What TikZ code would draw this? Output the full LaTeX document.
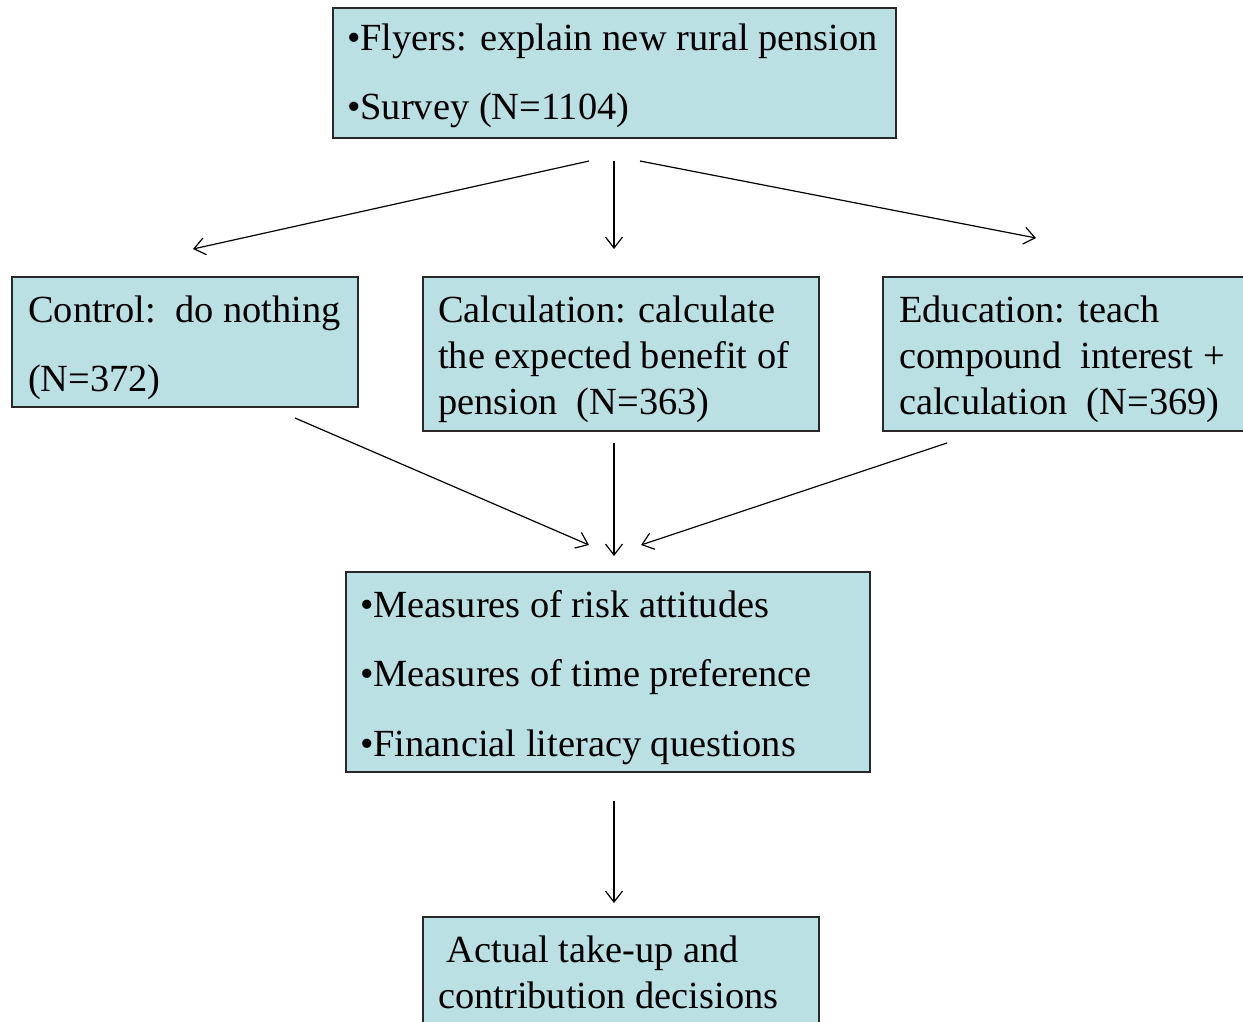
\documentclass[tikz,border=0pt]{standalone}
\usepackage{fontspec}
\setmainfont{Liberation Serif}
\usetikzlibrary{arrows.meta}
\definecolor{boxfill}{RGB}{187,224,227}
\definecolor{boxline}{RGB}{40,40,40}
\tikzset{
  box/.style={draw=boxline, fill=boxfill, line width=1.4pt},
  txt/.style={anchor=base west, inner sep=0pt, font=\fontsize{38.4}{46.5}\selectfont},
  arr/.style={line width=1.2pt, -{Straight Barb[length=11pt,width=17pt,line width=1.2pt]}}
}
\begin{document}
\begin{tikzpicture}[x=1pt,y=-1pt]
\useasboundingbox (0,0) rectangle (1243,1021);
% boxes
\draw[box] (333,8) rectangle (896,138);
\draw[box] (12,277) rectangle (358,407);
\draw[box] (423,277) rectangle (819,431);
\draw[box] (883,277) rectangle (1250,431);
\draw[box] (346,572) rectangle (870,772);
\draw[box] (423,917) rectangle (819,1030);
% texts
\node[txt] (t1) at (347,50) {\textbullet Flyers: explain new rural pension};
\node[txt] (t2) at (347,119) {\textbullet Survey (N=1104)};
\node[txt] (c1) at (28,322) {Control:\ \ do nothing};
\node[txt] (c2) at (28,391) {(N=372)};
\node[txt] (k1) at (438,322) {Calculation: calculate};
\node[txt] (k2) at (438,368) {the expected benefit of};
\node[txt] (k3) at (438,414) {pension\ \ (N=363)};
\node[txt] (e1) at (899,322) {Education: teach};
\node[txt] (e2) at (899,368) {compound\ \ interest +};
\node[txt] (e3) at (899,414) {calculation\ \ (N=369)};
\node[txt] (m1) at (360,617) {\textbullet Measures of risk attitudes};
\node[txt] (m2) at (360,686) {\textbullet Measures of time preference};
\node[txt] (m3) at (360,756) {\textbullet Financial literacy questions};
\node[txt] (a1) at (437,962) {\ Actual take-up and};
\node[txt] (a2) at (438,1008) {contribution decisions};
% arrow endpoints
\coordinate (s1) at (589,161); \coordinate (d1) at (193,249);
\coordinate (s2) at (614,161); \coordinate (d2) at (614,249);
\coordinate (s3) at (640,161); \coordinate (d3) at (1036,238);
\coordinate (s4) at (295,418); \coordinate (d4) at (589,545);
\coordinate (s5) at (614,443); \coordinate (d5) at (614,556);
\coordinate (s6) at (947,443); \coordinate (d6) at (641,545);
\coordinate (s7) at (614,801); \coordinate (d7) at (614,903);
\draw[arr] (s1) -- (d1);
\draw[arr] (s2) -- (d2);
\draw[arr] (s3) -- (d3);
\draw[arr] (s4) -- (d4);
\draw[arr] (s5) -- (d5);
\draw[arr] (s6) -- (d6);
\draw[arr] (s7) -- (d7);
\end{tikzpicture}
\end{document}
